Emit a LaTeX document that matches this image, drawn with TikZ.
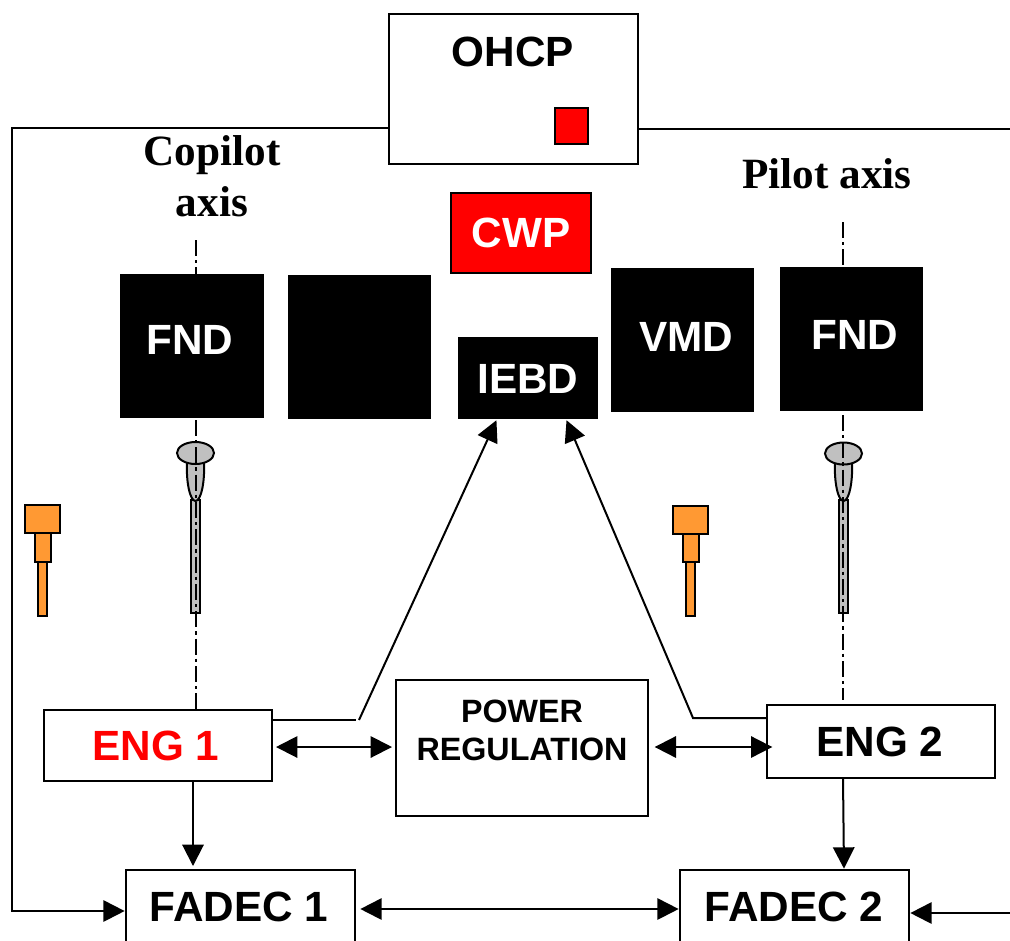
\documentclass[tikz,border=0pt]{standalone}
\usepackage{fontspec}
\setmainfont{Liberation Sans}
\newfontfamily\serifb{Liberation Serif}[BoldFont={Liberation Serif Bold}]
\usetikzlibrary{arrows.meta,calc}
\definecolor{orangeb}{HTML}{FF9933}
\definecolor{leverg}{HTML}{C0C0C0}
\tikzset{
  x=0.75pt,y=-0.75pt,
  wh/.style 2 args={minimum width=#1*0.75pt,minimum height=#2*0.75pt},
  box/.style={draw=black,fill=white,line width=1.5pt,inner sep=0pt,outer sep=0pt},
  blackbox/.style={fill=black,inner sep=0pt,outer sep=0pt},
  redbox/.style={fill=red,draw=black,line width=0.9pt,inner sep=0pt,outer sep=0pt},
  big/.style={font=\fontsize{31.7}{36}\selectfont\bfseries,inner sep=0pt},
  small/.style={font=\fontsize{24.2}{29}\selectfont\bfseries,inner sep=0pt,align=center},
  ser/.style={font=\serifb\fontsize{32.4}{38}\selectfont\bfseries,inner sep=0pt,align=center},
  conn/.style={line width=1.5pt,draw=black},
  tipend/.style={-{Triangle[length=16pt,width=16pt]}},
  tipboth/.style={{Triangle[length=16pt,width=16pt]}-{Triangle[length=16pt,width=16pt]}},
  axisline/.style={line width=1.4pt,draw=black,dash pattern=on 12pt off 3pt on 2.5pt off 3pt},
  lever/.style={draw=black,fill=leverg,line width=1.5pt},
  part/.style={draw=black,fill=orangeb,line width=1.5pt,inner sep=0pt,outer sep=0pt},
}
\begin{document}
\begin{tikzpicture}
\useasboundingbox (0,0) rectangle (1010,940);
\clip (0,0) rectangle (1010,940);

% free ends and routing points
\coordinate (leftrail) at (12,500);
\coordinate (rightedgeT) at (1010,129);
\coordinate (rightedgeB) at (1010,913);
\coordinate (axL) at (196,240);
\coordinate (axLb) at (196,420);
\coordinate (axR) at (843,222);
\coordinate (axRb) at (843,415);
\coordinate (axRe) at (843,700);
\coordinate (bendL) at (356,720);
\coordinate (startL) at (359,720);
\coordinate (bendR) at (693,718);

% axes (behind the black boxes)
\node[box,wh={228}{71}] (eng1) at (158,745.5) {};
\node[box,wh={228}{73}] (eng2) at (881,741.5) {};
\draw[axisline] (axL) -- (axL |- 0,290);
\draw[axisline] (axR) -- (axR |- 0,280);

% orange parts
\node[part,wh={9}{54}]  (o1c) at (42.5,589) {};
\node[part,wh={16}{29}] (o1b) at (43,547.5) {};
\node[part,wh={35}{28}] (o1a) at (42.5,519) {};
\node[part,wh={9}{54}]  (o2c) at (690.5,589) {};
\node[part,wh={16}{28}] (o2b) at (690.5,548) {};
\node[part,wh={35}{28}] (o2a) at (690.5,520) {};

% levers
\node[lever,wh={9}{113},inner sep=0pt,outer sep=0pt] (s1) at (195.5,556.5) {};
\draw[lever] (187,462) .. controls (186,482) and (190,501) .. (195.5,501)
             .. controls (201,501) and (205,482) .. (204,462) -- cycle;
\draw[lever] (195.5,453) ellipse (18.5 and 11);
\node[lever,wh={9}{113},inner sep=0pt,outer sep=0pt] (s2) at (843.5,556.5) {};
\draw[lever] (835,462) .. controls (834,482) and (838,501) .. (843.5,501)
             .. controls (849,501) and (853,482) .. (852,462) -- cycle;
\draw[lever] (843.5,453.5) ellipse (18.5 and 11);
\draw[axisline] (axLb) -- (axLb |- eng1.north);
\draw[axisline] (axRb) -- (axRe);

% boxes
\node[box,wh={249}{150}] (ohcp) at (513.5,89) {};
\node[big] (ohcpt) at (513,52) {OHCP};
\node[redbox,wh={33}{36}] (sq) at (571.5,126) {};
\node[redbox,wh={140}{80},text=white,big] (cwp) at (521,233) {CWP};
\node[blackbox,wh={144}{144}] (fnd1) at (192,346) {};
\node[big,text=white] (fnd1t) at (190,340) {FND};
\node[blackbox,wh={143}{144}] (blank) at (359.5,347) {};
\node[blackbox,wh={140}{82}] (iebd) at (528,378) {};
\node[big,text=white] (iebdt) at (528,379) {IEBD};
\node[blackbox,wh={143}{144}] (vmd) at (682.5,340) {};
\node[big,text=white] (vmdt) at (686,337) {VMD};
\node[blackbox,wh={143}{144}] (fnd2) at (851.5,339) {};
\node[big,text=white] (fnd2t) at (855,335) {FND};
\node[box,wh={252}{136}] (power) at (522,748) {};
\node[small] (powert) at (522,730.5) {POWER\\[0pt]REGULATION};
\node[big,text=red] (eng1t) at (156,746) {ENG 1};
\node[big] (eng2t) at (880,742) {ENG 2};
\node[box,wh={229}{100}] (fadec1) at (240.5,920) {};
\node[big] (fadec1t) at (239,907) {FADEC 1};
\node[box,wh={229}{100}] (fadec2) at (794.5,920) {};
\node[big] (fadec2t) at (794,907) {FADEC 2};

% labels
\node[ser] (copilot) at (212,176) {Copilot\\axis};
\node[ser] (pilot) at (827,174) {Pilot axis};

% connectors
\draw[conn] (ohcp.west |- 0,128) -| (leftrail);
\draw[conn,tipend,shorten >=1pt] (leftrail) |- (fadec1.west |- 0,911);
\draw[conn] (ohcp.east |- rightedgeT) -- (rightedgeT);
\draw[conn,tipend,shorten >=1pt] (rightedgeB) -- (fadec2.east |- rightedgeB);
\draw[conn,tipboth,shorten <=4pt,shorten >=1pt] (fadec1.east |- 0,909) -- (fadec2.west |- 0,909);
\draw[conn,tipboth,shorten <=3pt,shorten >=3pt] (eng1.east |- 0,747) -- (power.west |- 0,747);
\draw[conn,tipboth,shorten <=5pt,shorten >=-4pt] (power.east |- 0,747) -- (eng2.west |- 0,747);
\draw[conn,tipend,shorten >=3pt] (193,0 |- eng1.south) -- (193,0 |- fadec1.north);
\draw[conn,tipend,shorten >=1pt] (843,0 |- eng2.south) -- (844,0 |- fadec2.north);
\draw[conn] (eng1.east |- bendL) -- (bendL);
\draw[conn,tipend,shorten >=1pt] (startL) -- (497,0 |- iebd.south);
\draw[conn,tipend,shorten >=1pt] (eng2.west |- bendR) -- (bendR) -- (566,0 |- iebd.south);
\end{tikzpicture}
\end{document}
